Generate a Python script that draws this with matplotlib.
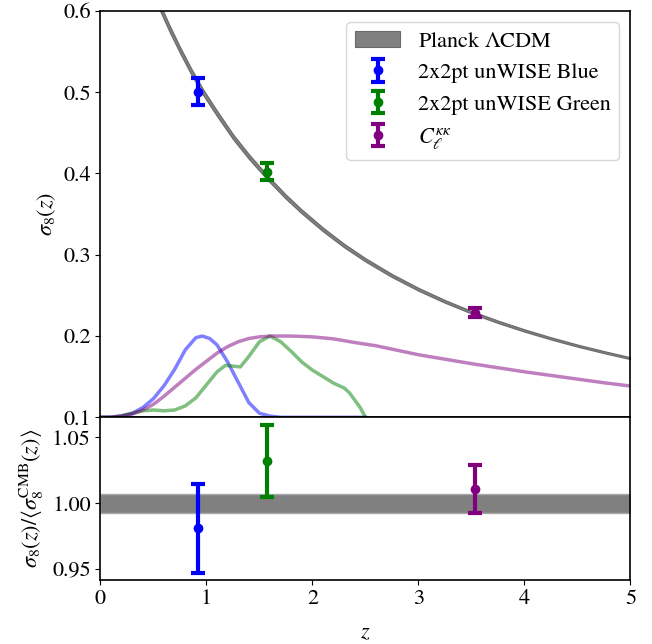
import numpy as np
import matplotlib.pyplot as plt

plt.rcParams['font.family'] = 'STIXGeneral'
plt.rcParams['mathtext.fontset'] = 'stix'
plt.rcParams['axes.linewidth'] = 1.2

# Planck LCDM sigma8(z)
z_planck = [0.45, 0.5, 0.577, 0.65, 0.75, 0.85, 0.967, 1.1, 1.25, 1.4, 1.574, 1.75, 1.9,
            2.1, 2.3, 2.5, 2.75, 3.0, 3.25, 3.5, 3.75, 4.0, 4.25, 4.5, 4.75, 5.0]
s8_planck = [0.638, 0.6233, 0.600, 0.5788, 0.552, 0.527, 0.5003, 0.4738, 0.4453, 0.4208,
             0.3951, 0.3713, 0.3531, 0.3310, 0.3112, 0.2937, 0.2744, 0.2575, 0.2426,
             0.2293, 0.2175, 0.2068, 0.1971, 0.1882, 0.1802, 0.1727]
band_frac = 0.007  # half width of the CMB band (bottom panel)

# measurements
labels = ['2x2pt unWISE Blue', '2x2pt unWISE Green', r'$C_\ell^{\kappa\kappa}$']
colors = ['blue', 'green', 'purple']
z_meas = [0.923, 1.574, 3.53]
s8_meas = [0.5007, 0.4022, 0.2287]
s8_err = [0.017, 0.0107, 0.0055]
ratio_meas = [0.981, 1.032, 1.0106]
ratio_err = [0.0336, 0.0274, 0.0183]

# redshift distributions (scaled)
z_blue = [0, 0.1, 0.2, 0.3, 0.4, 0.5, 0.6, 0.7, 0.8, 0.9, 0.96, 1.03, 1.1, 1.2, 1.3,
          1.4, 1.5, 1.6, 1.7, 2.5]
n_blue = [0.1, 0.1, 0.1015, 0.105, 0.112, 0.123, 0.139, 0.159, 0.183, 0.198, 0.2, 0.197,
          0.189, 0.168, 0.143, 0.118, 0.105, 0.1015, 0.1, 0.1]
z_green = [0, 0.1, 0.2, 0.3, 0.4, 0.5, 0.6, 0.7, 0.8, 0.9, 1.0, 1.1, 1.18, 1.25, 1.32,
           1.4, 1.5, 1.6, 1.7, 1.8, 1.9, 2.0, 2.1, 2.2, 2.3, 2.35, 2.4, 2.45, 2.5]
n_green = [0.1, 0.1, 0.102, 0.105, 0.108, 0.109, 0.108, 0.109, 0.114, 0.124, 0.140, 0.156,
           0.164, 0.163, 0.162, 0.175, 0.193, 0.2, 0.193, 0.181, 0.168, 0.158, 0.150,
           0.142, 0.136, 0.130, 0.121, 0.112, 0.1]
z_kk = [0, 0.1, 0.2, 0.3, 0.4, 0.5, 0.6, 0.7, 0.8, 0.9, 1.0, 1.1, 1.2, 1.3, 1.4, 1.5,
        1.6, 1.7, 1.8, 2.0, 2.2, 2.4, 2.6, 2.8, 3.0, 3.25, 3.5, 3.75, 4.0, 4.25, 4.5,
        4.75, 5.0]
n_kk = [0.1, 0.1003, 0.1015, 0.104, 0.109, 0.116, 0.126, 0.137, 0.148, 0.159, 0.169,
        0.179, 0.187, 0.193, 0.197, 0.199, 0.2, 0.2, 0.2, 0.199, 0.1965, 0.192, 0.188,
        0.1825, 0.177, 0.1715, 0.166, 0.161, 0.156, 0.1515, 0.147, 0.1425, 0.1385]

fig = plt.figure(figsize=(6.52, 6.44), dpi=100)
ax = fig.add_axes([0.1541, 0.352, 0.8129, 0.631])
ax2 = fig.add_axes([0.1541, 0.0994, 0.8129, 0.2526], sharex=ax)

z = np.array(z_planck)
s8 = np.array(s8_planck)
ax.fill_between(z, s8 * (1 - band_frac), s8 * (1 + band_frac), color='gray',
                edgecolor='dimgray', lw=0.8, label=r'Planck $\Lambda$CDM')

ax.plot(z_blue, n_blue, color='blue', alpha=0.5, lw=2.5)
ax.plot(z_green, n_green, color='green', alpha=0.5, lw=2.5)
ax.plot(z_kk, n_kk, color='purple', alpha=0.5, lw=2.5)

for i in range(3):
    ax.errorbar(z_meas[i], s8_meas[i], yerr=s8_err[i], fmt='o', color=colors[i],
                ms=6, elinewidth=3, capsize=5, capthick=3, label=labels[i])
    ax2.errorbar(z_meas[i], ratio_meas[i], yerr=ratio_err[i], fmt='o', color=colors[i],
                 ms=6, elinewidth=3, capsize=5, capthick=3)

ax2.fill_between([0, 5], 1 - band_frac, 1 + band_frac, color='gray',
                 edgecolor='darkgray', lw=1)

ax.set_xlim(0, 5)
ax.set_ylim(0.1, 0.6)
ax.set_yticks([0.1, 0.2, 0.3, 0.4, 0.5, 0.6])
ax.set_yticklabels(['0.1', '0.2', '0.3', '0.4', '0.5', '0.6'])
ax.tick_params(axis='x', bottom=False, labelbottom=False)
ax.tick_params(labelsize=16)
ax.set_ylabel(r'$\sigma_8(z)$', fontsize=16)
ax.legend(loc='upper right', fontsize=16)

ax2.set_ylim(0.9419, 1.0652)
ax2.set_yticks([0.95, 1.00, 1.05])
ax2.set_yticklabels(['0.95', '1.00', '1.05'])
ax2.set_xticks([0, 1, 2, 3, 4, 5])
ax2.tick_params(labelsize=16)
ax2.set_xlabel(r'$z$', fontsize=16, labelpad=10)
ax2.set_ylabel(r'$\sigma_8(z)/\langle\sigma_8^{\rm CMB}(z)\rangle$', fontsize=16)

fig.savefig('out.png', dpi=100)
